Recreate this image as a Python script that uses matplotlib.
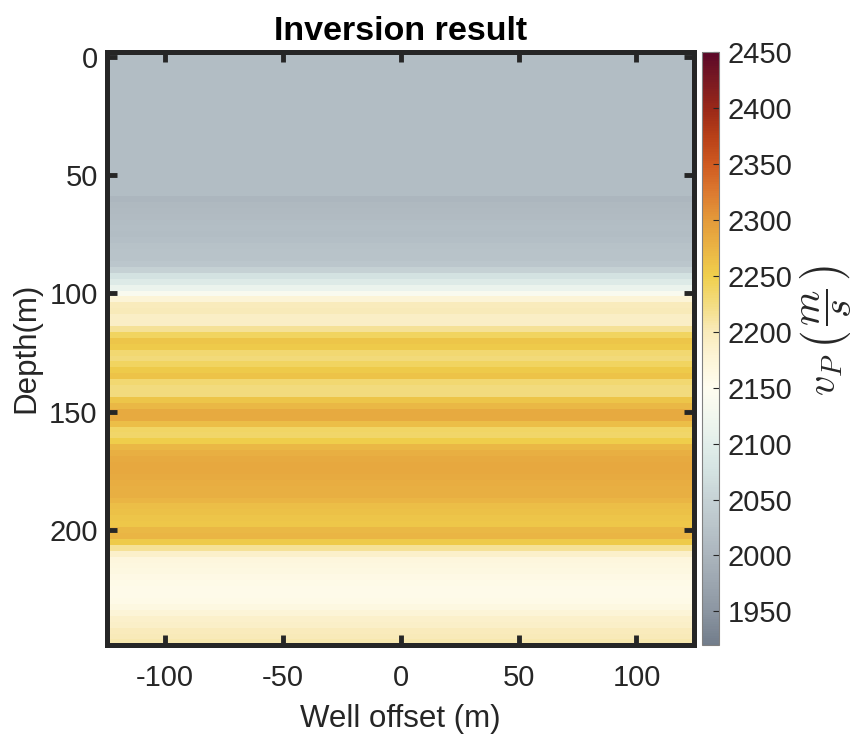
import numpy as np
import matplotlib
matplotlib.use("Agg")
import matplotlib.pyplot as plt
from matplotlib.colors import LinearSegmentedColormap

# ---------------- data ----------------
layer_thickness = 2.5          # m
well_offset_limits = [-123.75, 123.75]
n_offsets = 99
# inverted P-velocity per 2.5 m layer, from the surface downwards (m/s)
vp_profile = [
    2015, 2015, 2015, 2015, 2015, 2015, 2015, 2015, 2015, 2015,
    2015, 2015, 2015, 2015, 2015, 2015, 2015, 2015, 2015, 2015,
    2015, 2015, 2015, 2015, 2003, 2008, 2010, 2012, 2015, 2017,
    2015, 2018, 2022, 2025, 2025, 2030, 2050, 2075, 2092, 2115,
    2140, 2175, 2198, 2200, 2190, 2190, 2215, 2240, 2258, 2255,
    2232, 2228, 2240, 2255, 2260, 2232, 2226, 2226, 2258, 2270,
    2284, 2284, 2265, 2238, 2236, 2250, 2270, 2280, 2283, 2285,
    2285, 2283, 2282, 2280, 2280, 2274, 2265, 2262, 2258, 2256,
    2270, 2272, 2255, 2215, 2185, 2170, 2168, 2165, 2162, 2160,
    2158, 2158, 2160, 2165, 2175, 2185, 2188, 2198, 2200, 2205,
]
vmin, vmax = 1920, 2450
depth_ticks = [0, 50, 100, 150, 200]
offset_ticks = [-100, -50, 0, 50, 100]
cbar_ticks = [1950, 2000, 2050, 2100, 2150, 2200, 2250, 2300, 2350, 2400, 2450]

# colormap anchors (value, colour)
cmap_values = [1920, 1950, 1975, 2000, 2025, 2050, 2075, 2100, 2125, 2150,
               2175, 2200, 2225, 2250, 2275, 2300, 2325, 2350, 2375, 2400,
               2425, 2450]
cmap_colors = ["#727d8b", "#8c96a2", "#9ca6b0", "#abb5bd", "#b9c4ca", "#c6d2d5",
               "#d4e3e2", "#e2eeea", "#f2f7ef", "#fffdf0", "#fdf5d8", "#f9ebbb",
               "#f3dc80", "#f0cf4c", "#eab444", "#e49a3a", "#dc7a30", "#cf5a20",
               "#b84018", "#9a2818", "#7a1a22", "#5c0828"]

# ---------------- plot ----------------
plt.rcParams['font.family'] = ['Liberation Sans', 'DejaVu Sans']
plt.rcParams['mathtext.fontset'] = 'cm'
plt.rcParams['axes.unicode_minus'] = False

pos = [(v - vmin) / (vmax - vmin) for v in cmap_values]
cmap = LinearSegmentedColormap.from_list("vp", list(zip(pos, cmap_colors)))

vp = np.array(vp_profile, dtype=float)
field = np.tile(vp[:, None], (1, n_offsets))
depth_top = -layer_thickness / 2
depth_bot = depth_top + layer_thickness * len(vp)

fig = plt.figure(figsize=(8.57, 7.34), dpi=100)
ax = fig.add_axes([0.1254, 0.1213, 0.6844, 0.8085])
im = ax.imshow(field, cmap=cmap, vmin=vmin, vmax=vmax, aspect='auto',
               interpolation='nearest',
               extent=[well_offset_limits[0], well_offset_limits[1], depth_bot, depth_top])
ax.set_xlim(-124.4, 124.4)
ax.set_ylim(248.6, -2.3)

dark = "#262626"
for s in ax.spines.values():
    s.set_linewidth(3.6)
    s.set_color(dark)
ax.set_xticks(offset_ticks)
ax.set_yticks(depth_ticks)
ax.tick_params(direction='in', length=7, width=3.5, color=dark, labelcolor=dark,
               labelsize=21, top=True, right=True)
ax.tick_params(axis='x', pad=14)
ax.tick_params(axis='y', pad=7)
ax.set_xlabel("Well offset (m)", fontsize=22.5, color=dark, labelpad=8)
ax.set_ylabel("Depth(m)", fontsize=22.5, color=dark, labelpad=6)
ax.set_title("Inversion result", fontsize=24.5, fontweight='bold', color='black', pad=8)

cax = fig.add_axes([0.8191, 0.1213, 0.0198, 0.8079])
cb = fig.colorbar(im, cax=cax, ticks=cbar_ticks)
cb.outline.set_linewidth(0.8)
cb.outline.set_edgecolor("#808080")
cax.tick_params(direction='in', length=4, width=0.8, color=dark, labelcolor=dark,
                labelsize=21, pad=6)
cb.set_label(r'$v_{P}\,\left(\,\dfrac{m}{s}\,\right)$', fontsize=29, color=dark, labelpad=4)
cax.yaxis.label.set_y(0.53)

fig.savefig("out.png", dpi=100)
